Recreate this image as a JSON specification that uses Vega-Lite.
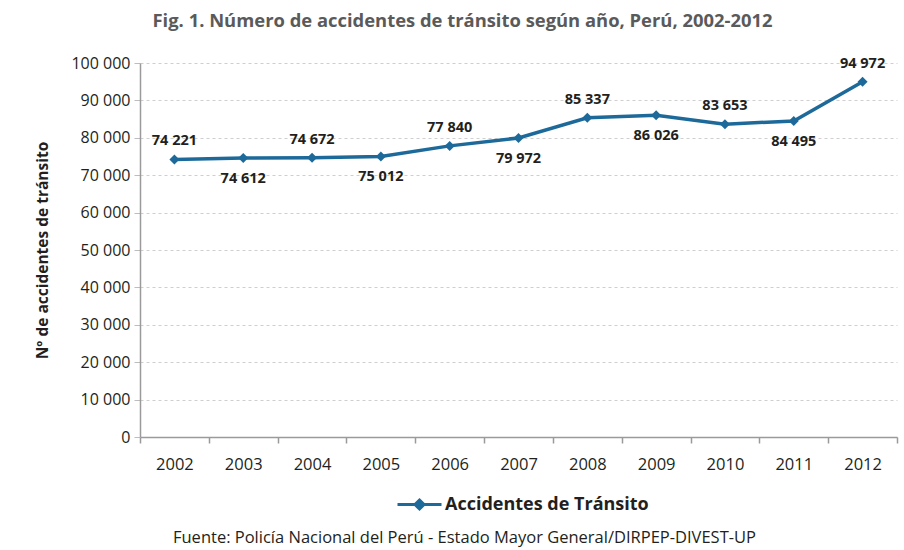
{
  "$schema": "https://vega.github.io/schema/vega-lite/v6.json",
  "width": 757,
  "height": 374,
  "autosize": {"type": "none"},
  "padding": {"left": 140, "top": 63, "right": 7, "bottom": 113},
  "background": "white",
  "title": {
    "text": "Fig. 1. Número de accidentes de tránsito según año, Perú, 2002-2012",
    "anchor": "middle",
    "frame": "group",
    "dx": -56,
    "offset": 25,
    "font": "Open Sans",
    "fontSize": 18.4,
    "fontWeight": "bold",
    "color": "#5a5a5a"
  },
  "config": {
    "locale": {"number": {"decimal": ",", "thousands": " ", "grouping": [3], "currency": ["", ""]}},
    "view": {"stroke": null},
    "font": "Open Sans"
  },
  "data": {
    "values": [
      {"year": 2002, "accidentes": 74221},
      {"year": 2003, "accidentes": 74612},
      {"year": 2004, "accidentes": 74672},
      {"year": 2005, "accidentes": 75012},
      {"year": 2006, "accidentes": 77840},
      {"year": 2007, "accidentes": 79972},
      {"year": 2008, "accidentes": 85337},
      {"year": 2009, "accidentes": 86026},
      {"year": 2010, "accidentes": 83653},
      {"year": 2011, "accidentes": 84495},
      {"year": 2012, "accidentes": 94972}
    ]
  },
  "encoding": {
    "x": {
      "field": "year",
      "type": "ordinal",
      "scale": {"type": "band", "paddingInner": 0, "paddingOuter": 0},
      "axis": {
        "title": "Fuente: Policía Nacional del Perú - Estado Mayor General/DIRPEP-DIVEST-UP",
        "tickBand": "extent",
        "labelAngle": 0,
        "domainColor": "#9a9a9a",
        "domainWidth": 1.5,
        "tickColor": "#9a9a9a",
        "tickWidth": 1.5,
        "tickSize": 6,
        "labelPadding": 13,
        "labelFontSize": 16.5,
        "labelColor": "#231f20",
        "titleX": 324,
        "titleY": 100,
        "titleAlign": "center",
        "titleBaseline": "middle",
        "titleFontSize": 16.5,
        "titleFontWeight": "normal",
        "titleColor": "#231f20"
      }
    },
    "y": {
      "field": "accidentes",
      "type": "quantitative",
      "scale": {"domain": [0, 100000], "nice": false},
      "axis": {
        "title": "Nº de accidentes de tránsito",
        "values": [0, 10000, 20000, 30000, 40000, 50000, 60000, 70000, 80000, 90000, 100000],
        "format": ",d",
        "grid": true,
        "gridDash": [3, 3],
        "gridColor": "#cfcfcf",
        "domainColor": "#9a9a9a",
        "domainWidth": 1.5,
        "tickColor": "#bdbdbd",
        "tickSize": 6,
        "labelFontSize": 16,
        "labelColor": "#231f20",
        "labelPadding": 4,
        "titleFontSize": 15.5,
        "titleFontWeight": "bold",
        "titleColor": "#231f20",
        "titlePadding": 20
      }
    }
  },
  "layer": [
    {
      "mark": {"type": "line", "strokeWidth": 3.5},
      "encoding": {
        "color": {
          "datum": "Accidentes de Tránsito",
          "scale": {"range": ["#1d6a9a"]},
          "legend": {
            "title": null,
            "orient": "none",
            "legendX": 268,
            "legendY": 430,
            "symbolType": "M-2.2,0H2.2M0,-0.45L0.45,0L0,0.45L-0.45,0Z",
            "symbolSize": 400,
            "labelOffset": 14,
            "labelLimit": 0,
            "labelFontSize": 18,
            "labelFontWeight": "bold",
            "labelColor": "#231f20",
            "labelFont": "Open Sans",
            "encode": {
              "symbols": {
                "update": {
                  "fill": {"value": "#1d6a9a"},
                  "stroke": {"value": "#1d6a9a"},
                  "strokeWidth": {"value": 3},
                  "opacity": {"value": 1}
                }
              }
            }
          }
        }
      }
    },
    {
      "mark": {"type": "point", "shape": "diamond", "filled": true, "size": 100, "opacity": 1},
      "encoding": {"color": {"datum": "Accidentes de Tránsito"}}
    },
    {
      "transform": [{"filter": "datum.year % 2 == 0"}],
      "mark": {"type": "text", "dy": -18, "fontWeight": "bold", "fontSize": 14.5, "color": "#231f20", "font": "Open Sans"},
      "encoding": {"text": {"field": "accidentes", "type": "quantitative", "format": ",d"}}
    },
    {
      "transform": [{"filter": "datum.year % 2 == 1"}],
      "mark": {"type": "text", "dy": 21, "fontWeight": "bold", "fontSize": 14.5, "color": "#231f20", "font": "Open Sans"},
      "encoding": {"text": {"field": "accidentes", "type": "quantitative", "format": ",d"}}
    }
  ]
}
